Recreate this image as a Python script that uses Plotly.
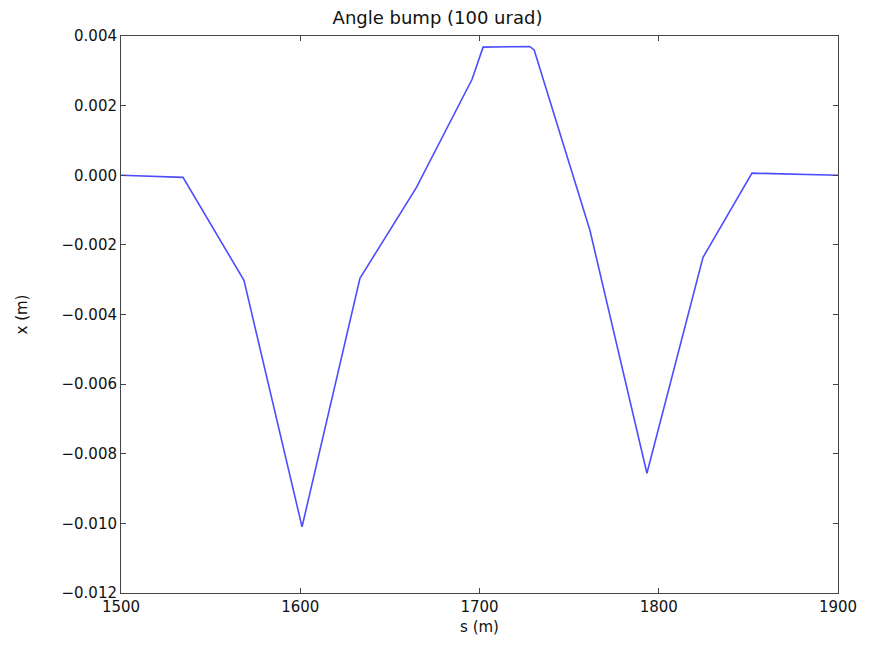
import plotly.graph_objects as go

s_m = [1500, 1534.6, 1568.6, 1601, 1633.3, 1664.6, 1695.8, 1699.5, 1702, 1728, 1730.5, 1761.6, 1793.4, 1824.7, 1852, 1900]
x_m = [0.0, -0.00006, -0.00302, -0.0101, -0.00296, -0.00037, 0.00275, 0.0033, 0.00368, 0.0037, 0.0036, -0.00158, -0.00856, -0.00236, 0.00006, 0.0]

y_ticks = [0.004, 0.002, 0.0, -0.002, -0.004, -0.006, -0.008, -0.010, -0.012]
x_ticks = [1500, 1600, 1700, 1800, 1900]

fig = go.Figure()
fig.add_trace(go.Scatter(x=s_m, y=x_m, mode="lines",
                         line=dict(color="#4d4dff", width=1.6),
                         showlegend=False))

font = "DejaVu Sans"
fig.update_layout(
    width=875, height=649,
    margin=dict(l=121, r=37, t=36, b=56),
    paper_bgcolor="white", plot_bgcolor="white",
    font=dict(family=font, size=15, color="#111"),
    title=dict(text="Angle bump (100 urad)", x=0.5, xanchor="center",
               y=1 - 18/649, yanchor="middle", font=dict(family=font, size=18, color="#111")),
)
fig.update_xaxes(range=[1500, 1900], tickvals=x_ticks, ticktext=[str(v) for v in x_ticks],
                 ticks="inside", ticklen=5, tickcolor="#444", showline=True, linecolor="#444",
                 linewidth=1, mirror="ticks", showgrid=False, zeroline=False,
                 title=dict(text="s (m)", font=dict(size=15), standoff=6),
                 tickfont=dict(size=15))
fig.update_yaxes(range=[-0.012, 0.004], tickvals=y_ticks,
                 ticktext=[f"{v:.3f}".replace("-", "\u2212") for v in y_ticks],
                 ticks="inside", ticklen=5, tickcolor="#444", showline=True, linecolor="#444",
                 linewidth=1, mirror="ticks", showgrid=False, zeroline=False,
                 title=dict(text="x (m)", font=dict(size=15), standoff=30),
                 tickfont=dict(size=15))

fig.write_html("out.html")
